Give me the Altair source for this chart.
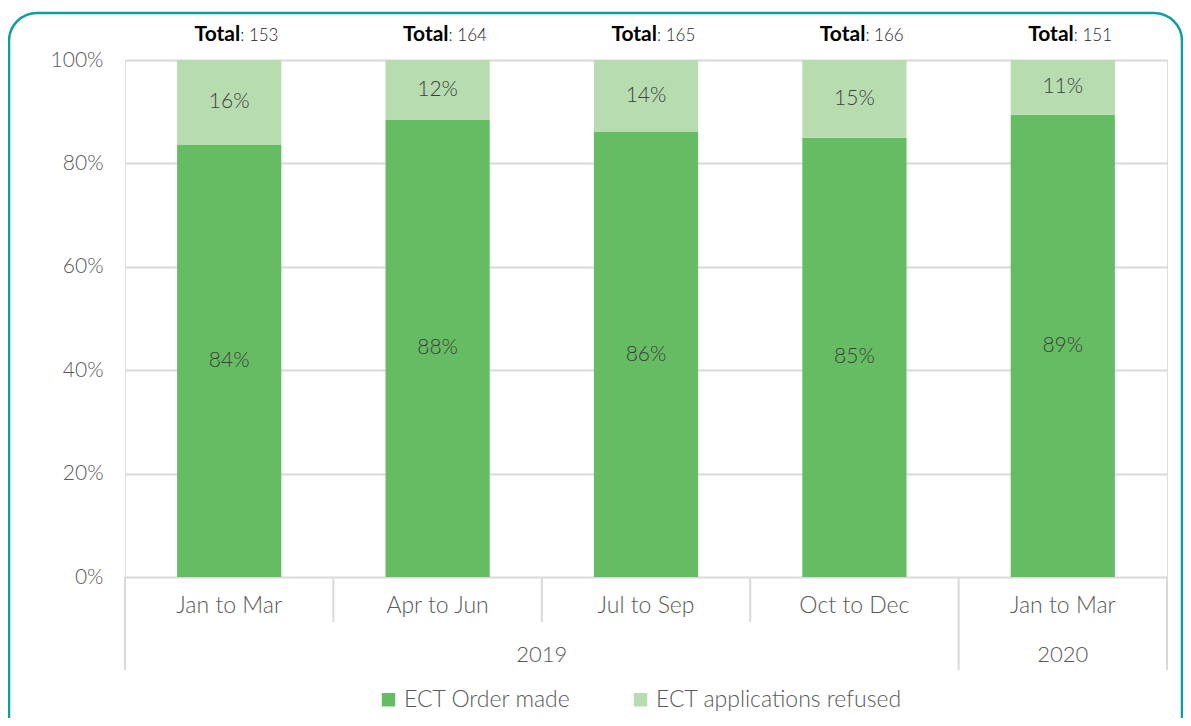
import altair as alt
import pandas as pd

# ---- data ----
period_keys = ["2019 Q1", "2019 Q2", "2019 Q3", "2019 Q4", "2020 Q1"]
period_labels = ["Jan to Mar", "Apr to Jun", "Jul to Sep", "Oct to Dec", "Jan to Mar"]
years = ["2019", "2019", "2019", "2019", "2020"]
order_made = [128, 145, 142, 141, 135]
refused = [25, 19, 23, 25, 16]
totals = [153, 164, 165, 166, 151]
series = ["ECT Order made", "ECT applications refused"]
colors = ["#66BC62", "#B6DCAF"]

FONT = "Lato"
LIGHT = 300

# ---- tables built from the arrays ----
rows = []
for i, k in enumerate(period_keys):
    cum = 0
    for s_i, (s, vals) in enumerate(zip(series, [order_made, refused])):
        v = vals[i]
        mid = (cum + v / 2) / totals[i]
        cum += v
        rows.append({"period": k, "series": s, "order": s_i, "value": v,
                     "mid": mid, "label": f"{round(100 * v / totals[i])}%"})
bars_df = pd.DataFrame(rows)

cat_df = pd.DataFrame({"period": period_keys, "label": period_labels,
                       "total": [f": {t}" for t in totals], "bold": ["Total"] * len(totals)})

# group separators / year labels on a 0..n index scale
n = len(period_keys)
bounds_long, bounds_short = [0], []
for i in range(1, n):
    (bounds_long if years[i] != years[i - 1] else bounds_short).append(i)
bounds_long.append(n)
long_df = pd.DataFrame({"pos": bounds_long})
short_df = pd.DataFrame({"pos": bounds_short})

year_rows = []
start = 0
for i in range(1, n + 1):
    if i == n or years[i] != years[start]:
        year_rows.append({"year": years[start], "center": (start + i) / 2})
        start = i
year_df = pd.DataFrame(year_rows)

band = alt.Scale(type="band", paddingInner=0.5, paddingOuter=0.25, domain=period_keys)
pt = alt.Scale(type="point", padding=0.5, domain=period_keys)
qx = alt.Scale(domain=[0, n], nice=False, zero=False)
yscale = alt.Scale(domain=[0, 1], nice=False)

y_axis = alt.Axis(format=".0%", values=[0, 0.2, 0.4, 0.6, 0.8, 1.0], title=None,
                  grid=True, gridColor="#D9D9D9", gridWidth=2, domain=False,
                  ticks=False, labelFontSize=21, labelColor="#595959",
                  labelPadding=22, labelFont=FONT, labelFontWeight=LIGHT)

bars = alt.Chart(bars_df).mark_bar().encode(
    x=alt.X("period:N", scale=band, axis=None, sort=period_keys),
    y=alt.Y("value:Q", stack="normalize", scale=yscale, axis=y_axis),
    color=alt.Color("series:N", scale=alt.Scale(domain=series, range=colors),
                    legend=alt.Legend(title=None, orient="none", direction="horizontal",
                                      legendX=252, legendY=628, symbolType="square",
                                      symbolSize=180, symbolStrokeWidth=0,
                                      labelFontSize=23, labelColor="#595959", labelFont=FONT,
                                      labelFontWeight=LIGHT,
                                      labelOffset=4, columnPadding=58, labelLimit=400)),
    order=alt.Order("order:Q"),
)

pct = alt.Chart(bars_df).mark_text(fontSize=21, color="#404040", font=FONT,
                                   fontWeight=LIGHT).encode(
    x=alt.X("period:N", scale=pt, axis=None, sort=period_keys),
    y=alt.Y("mid:Q", scale=yscale, axis=y_axis),
    text="label:N",
)

tot_bold = alt.Chart(cat_df).mark_text(fontSize=21, fontWeight="bold", color="#000000",
                                      align="right", dx=11, font=FONT).encode(
    x=alt.X("period:N", scale=pt, axis=None, sort=period_keys),
    y=alt.value(-25),
    text="bold:N",
)
tot_num = alt.Chart(cat_df).mark_text(fontSize=17, color="#262626", align="left", dx=11,
                                     font=FONT, fontWeight=LIGHT).encode(
    x=alt.X("period:N", scale=pt, axis=None, sort=period_keys),
    y=alt.value(-24),
    text="total:N",
)

cat_labels = alt.Chart(cat_df).mark_text(fontSize=23, color="#595959", font=FONT,
                                         fontWeight=LIGHT).encode(
    x=alt.X("period:N", scale=pt, axis=None, sort=period_keys),
    y=alt.value(546),
    text="label:N",
)

long_rules = alt.Chart(long_df).mark_rule(color="#D9D9D9", strokeWidth=2).encode(
    x=alt.X("pos:Q", scale=qx, axis=None),
    y=alt.value(517), y2=alt.value(610),
)
short_rules = alt.Chart(short_df).mark_rule(color="#D9D9D9", strokeWidth=2).encode(
    x=alt.X("pos:Q", scale=qx, axis=None),
    y=alt.value(517), y2=alt.value(562),
)
year_labels = alt.Chart(year_df).mark_text(fontSize=22, color="#595959", font=FONT,
                                          fontWeight=LIGHT).encode(
    x=alt.X("center:Q", scale=qx, axis=None),
    y=alt.value(595),
    text="year:N",
)

border = alt.Chart(pd.DataFrame({"a": [0]})).mark_rect(
    cornerRadius=28, fillOpacity=0, stroke="#0E9EA0", strokeWidth=2.5).encode(
    x=alt.value(-116), x2=alt.value(1057), y=alt.value(-47), y2=alt.value(700),
)

chart = alt.layer(
    bars, pct, tot_bold, tot_num, cat_labels, long_rules, short_rules, year_labels, border
).resolve_scale(x="independent").properties(
    width=1042, height=517,
    padding={"left": 117, "top": 52, "right": 16, "bottom": 141},
    autosize=alt.AutoSizeParams(type="none"),
).configure_view(strokeWidth=0, stroke="transparent").configure(font=FONT)

chart.save("out.html", embed_options={"renderer": "svg", "actions": False})
